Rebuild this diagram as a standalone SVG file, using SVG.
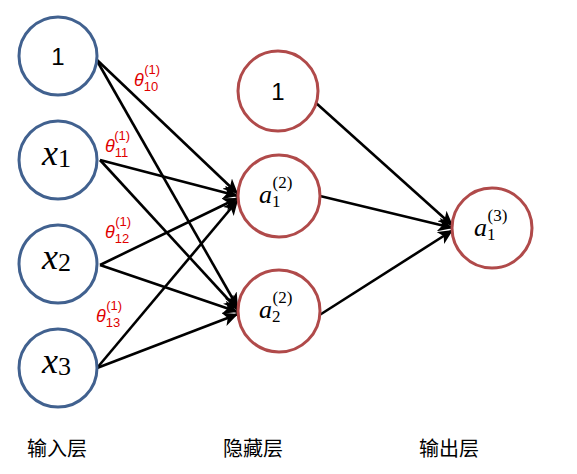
<svg xmlns="http://www.w3.org/2000/svg" width="577" height="474" viewBox="0 0 577 474">
<style>
.in{fill:#fff;stroke:#41618f;stroke-width:3}
.hid{fill:#fff;stroke:#b04a4a;stroke-width:3}
.e{stroke:#000;stroke-width:2.6;fill:none;marker-end:url(#ah)}
.one{font-family:"Liberation Sans",Arial,sans-serif;font-size:24px;fill:#000}
.m{font-family:"Liberation Serif","Times New Roman",serif;font-style:italic;font-size:36px;fill:#000}
.ms{font-family:"Liberation Serif","Times New Roman",serif;font-style:normal;font-size:26px;fill:#000}
.ma{font-family:"Liberation Serif","Times New Roman",serif;font-style:italic;font-size:26px;fill:#000}
.mas{font-family:"Liberation Serif","Times New Roman",serif;font-style:normal;font-size:17px;fill:#000}
.th{font-family:"Liberation Sans",Arial,sans-serif;font-style:italic;font-size:18px;fill:#e00000}
.ths{font-family:"Liberation Sans",Arial,sans-serif;font-style:normal;font-size:13px;fill:#e00000}
.lab{font-family:"Noto Sans CJK SC",sans-serif;font-size:20px;fill:#000}
</style>
<defs>
<marker id="ah" markerUnits="userSpaceOnUse" markerWidth="16" markerHeight="14" refX="15" refY="7" orient="auto">
<path d="M0,0 L15,7 L0,14 L4,7 z" fill="#000"/>
</marker>
</defs>
<g id="connectors">
<line class="e" x1="96" y1="59" x2="238" y2="194"/>
<line class="e" x1="96" y1="59" x2="238" y2="308"/>
<line class="e" x1="100" y1="160" x2="238" y2="196"/>
<line class="e" x1="100" y1="160" x2="238" y2="310"/>
<line class="e" x1="100" y1="265" x2="238" y2="198"/>
<line class="e" x1="100" y1="265" x2="238" y2="312"/>
<line class="e" x1="97" y1="368" x2="238" y2="200"/>
<line class="e" x1="97" y1="368" x2="238" y2="314"/>
<line class="e" x1="316" y1="103" x2="453" y2="226"/>
<line class="e" x1="320" y1="196" x2="453" y2="228"/>
<line class="e" x1="318" y1="316" x2="453" y2="230"/>
</g>
<g id="theta10"><text class="th" x="134" y="86">θ<tspan class="ths" dy="5">10</tspan><tspan class="ths" dx="-14" dy="-17">(1)</tspan></text></g>
<g id="theta11"><text class="th" x="105" y="152">θ<tspan class="ths" dy="5">11</tspan><tspan class="ths" dx="-14" dy="-17">(1)</tspan></text></g>
<g id="theta12"><text class="th" x="105" y="238">θ<tspan class="ths" dy="5">12</tspan><tspan class="ths" dx="-14" dy="-17">(1)</tspan></text></g>
<g id="theta13"><text class="th" x="96" y="322">θ<tspan class="ths" dy="5">13</tspan><tspan class="ths" dx="-14" dy="-17">(1)</tspan></text></g>
<g id="in0"><circle class="in" cx="58" cy="56" r="39"/><text class="one" x="58" y="65" text-anchor="middle">1</text></g>
<g id="in1"><circle class="in" cx="58" cy="160" r="39"/><text class="m" x="42" y="165">x<tspan class="ms" dy="2">1</tspan></text></g>
<g id="in2"><circle class="in" cx="58" cy="264" r="39"/><text class="m" x="42" y="269">x<tspan class="ms" dy="2">2</tspan></text></g>
<g id="in3"><circle class="in" cx="58" cy="368" r="39"/><text class="m" x="42" y="373">x<tspan class="ms" dy="2">3</tspan></text></g>
<g id="hid0"><circle class="hid" cx="278" cy="91" r="40"/><text class="one" x="278" y="100" text-anchor="middle">1</text></g>
<g id="hid1"><circle class="hid" cx="279" cy="196" r="41"/><text class="ma" x="259" y="203">a<tspan class="mas" dy="4">1</tspan><tspan class="mas" dx="-8" dy="-19">(2)</tspan></text></g>
<g id="hid2"><circle class="hid" cx="279" cy="311" r="41"/><text class="ma" x="259" y="318">a<tspan class="mas" dy="4">2</tspan><tspan class="mas" dx="-8" dy="-19">(2)</tspan></text></g>
<g id="out"><circle class="hid" cx="492" cy="228" r="40"/><text class="ma" x="474" y="236">a<tspan class="mas" dy="4">1</tspan><tspan class="mas" dx="-8" dy="-19">(3)</tspan></text></g>
<g id="labels">
<text class="lab" x="27" y="456">输入层</text>
<text class="lab" x="223" y="456">隐藏层</text>
<text class="lab" x="419" y="456">输出层</text>
</g>
</svg>
